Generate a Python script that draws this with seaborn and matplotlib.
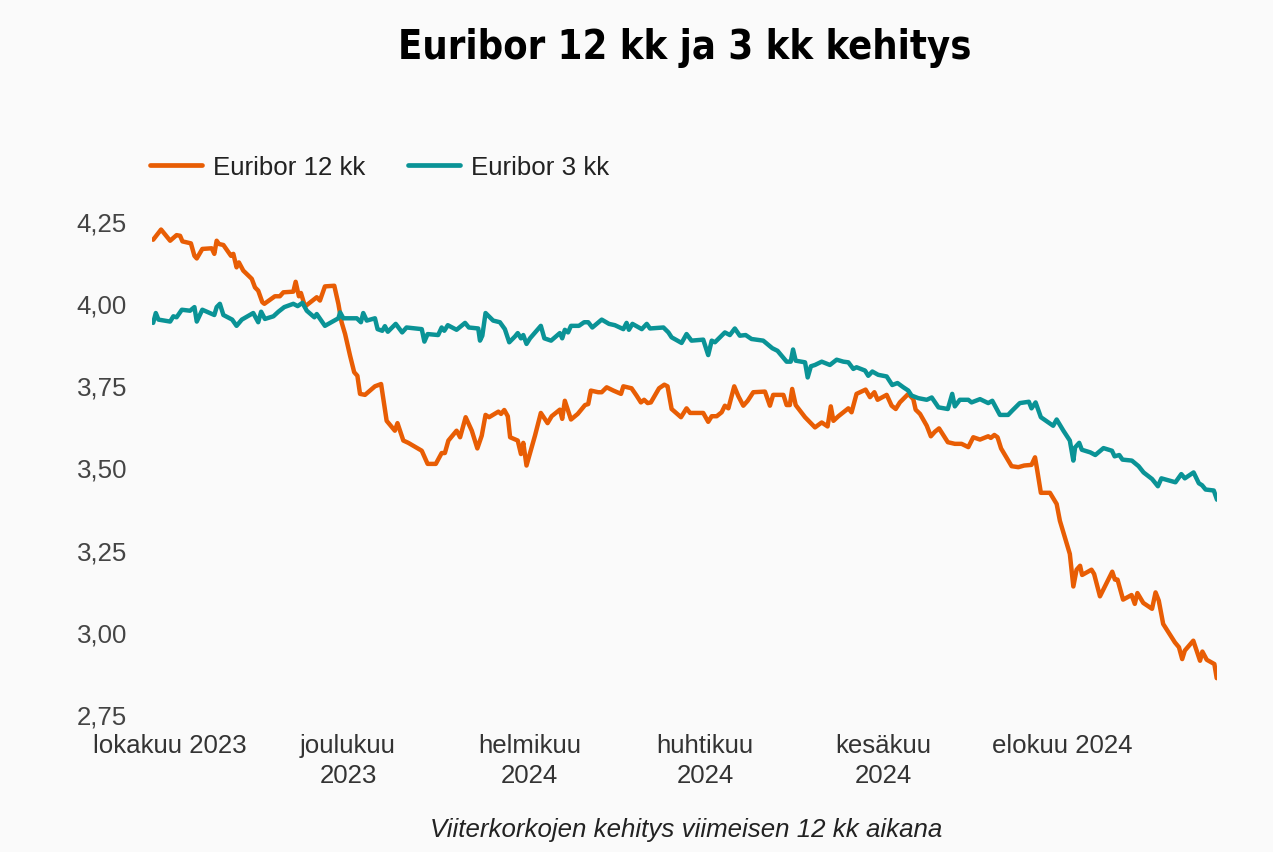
import matplotlib
matplotlib.use("Agg")
import matplotlib.pyplot as plt
import seaborn as sns
import pandas as pd
from matplotlib.lines import Line2D

# ---- data (day offsets from START, values in %) ----
START = "2023-09-25"

days_12 = [0.4, 3.1, 6.2, 8.4, 9.6, 10.4, 13.3, 14.5, 15.3, 17.2, 20.4, 21.3, 22.1, 22.9, 24.4,
           27.0, 27.8, 28.9, 29.7, 31.2, 34.1, 35.2, 36.3, 37.7, 38.4, 40.3, 42.0, 43.7, 44.9,
           48.3, 49.1, 50.2, 50.9, 52.3, 56.3, 57.4, 59.1, 62.3, 63.7, 64.8, 66.0, 67.7, 69.1,
           70.2, 71.1, 72.8, 76.2, 78.3, 80.2, 83.0, 83.9, 85.9, 87.6, 92.2, 94.2, 97.0, 99.0,
           100.1, 101.3, 104.1, 105.3, 107.2, 109.3, 111.2, 112.7, 114.0, 115.2, 118.4, 119.3,
           120.4, 121.6, 122.4, 125.0, 126.1, 126.9, 128.0, 130.9, 132.9, 135.2, 136.6, 139.4,
           140.2, 141.1, 143.2, 145.5, 148.0, 149.1, 150.0, 152.5, 153.7, 155.4, 157.7, 160.3,
           161.1, 163.9, 165.6, 167.1, 168.2, 169.4, 170.5, 173.3, 175.1, 176.2, 177.6, 180.8,
           182.7, 183.9, 188.4, 190.1, 191.3, 193.0, 194.7, 195.8, 197.0, 199.0, 200.4, 202.1,
           203.6, 205.5, 209.5, 211.2, 212.3, 215.8, 216.9, 218.0, 218.8, 220.0, 223.2, 225.5,
           226.6, 228.9, 230.9, 232.0, 232.9, 234.6, 238.0, 239.1, 240.8, 243.9, 245.4, 246.9,
           248.0, 251.1, 252.8, 254.2, 255.6, 258.5, 260.2, 261.0, 262.5, 264.8, 266.2, 267.6,
           269.0, 272.0, 274.4, 276.7, 279.0, 280.7, 283.0, 285.8, 286.7, 287.9, 289.0, 290.2,
           293.8, 296.1, 298.1, 300.6, 301.8, 302.4, 303.8, 306.9, 309.2, 310.3, 313.7, 314.9,
           316.0, 317.2, 317.9, 321.1, 322.0, 324.0, 328.2, 329.1, 330.0, 331.9, 334.8, 335.9,
           336.8, 338.8, 341.8, 343.0, 344.1, 345.6, 349.6, 351.0, 352.1, 353.0, 355.9, 358.2,
           359.0, 360.5, 363.1, 363.9]
euribor_12 = [4.193, 4.224, 4.19, 4.207, 4.205, 4.188, 4.182, 4.144, 4.136, 4.165, 4.167, 4.15,
              4.19, 4.18, 4.177, 4.144, 4.15, 4.109, 4.124, 4.099, 4.074, 4.048, 4.038, 4.003,
              3.998, 4.01, 4.021, 4.021, 4.033, 4.035, 4.065, 4.021, 4.031, 3.99, 4.018, 4.008,
              4.051, 4.053, 3.998, 3.942, 3.906, 3.84, 3.79, 3.779, 3.724, 3.721, 3.747, 3.754,
              3.642, 3.612, 3.635, 3.582, 3.575, 3.551, 3.511, 3.511, 3.544, 3.544, 3.582, 3.612,
              3.592, 3.653, 3.612, 3.558, 3.597, 3.66, 3.653, 3.67, 3.663, 3.675, 3.656, 3.592,
              3.582, 3.541, 3.575, 3.506, 3.597, 3.666, 3.635, 3.656, 3.676, 3.648, 3.703, 3.646,
              3.663, 3.69, 3.693, 3.734, 3.729, 3.729, 3.744, 3.734, 3.724, 3.747, 3.741, 3.719,
              3.698, 3.706, 3.696, 3.698, 3.741, 3.752, 3.747, 3.678, 3.653, 3.68, 3.666, 3.666,
              3.639, 3.656, 3.656, 3.668, 3.688, 3.68, 3.747, 3.717, 3.688, 3.703, 3.729, 3.731,
              3.688, 3.721, 3.721, 3.69, 3.69, 3.739, 3.69, 3.653, 3.632, 3.622, 3.637, 3.625,
              3.686, 3.642, 3.656, 3.68, 3.668, 3.724, 3.737, 3.714, 3.729, 3.706, 3.721, 3.688,
              3.678, 3.698, 3.724, 3.708, 3.676, 3.663, 3.627, 3.595, 3.609, 3.619, 3.577, 3.572,
              3.572, 3.562, 3.592, 3.585, 3.595, 3.59, 3.599, 3.592, 3.558, 3.504, 3.501, 3.506,
              3.508, 3.531, 3.50, 3.423, 3.423, 3.389, 3.338, 3.237, 3.138, 3.189, 3.201, 3.173,
              3.189, 3.176, 3.108, 3.183, 3.159, 3.159, 3.098, 3.112, 3.085, 3.118, 3.088, 3.07,
              3.12, 3.095, 3.024, 2.968, 2.953, 2.917, 2.943, 2.973, 2.912, 2.94, 2.915, 2.902,
              2.859]

days_3 = [0.4, 1.3, 2.2, 6.2, 7.3, 8.4, 10.2, 13.0, 14.5, 15.3, 17.2, 21.3, 22.1, 23.2, 24.4,
          27.4, 28.9, 30.7, 34.6, 36.3, 37.3, 38.6, 41.5, 43.2, 45.2, 48.3, 49.8, 51.4, 52.9,
          55.5, 56.3, 59.1, 62.3, 63.7, 64.3, 65.4, 70.0, 71.4, 72.2, 73.4, 76.2, 77.1, 78.7,
          79.6, 80.6, 83.3, 85.5, 87.0, 92.2, 93.1, 94.2, 97.8, 99.0, 99.9, 101.1, 104.1, 107.0,
          108.3, 111.5, 112.1, 112.9, 114.0, 116.6, 118.9, 120.6, 122.1, 124.1, 125.0, 126.1,
          126.9, 128.0, 129.2, 132.9, 134.1, 136.4, 139.4, 140.2, 141.1, 142.2, 143.2, 145.9,
          147.7, 149.1, 150.5, 153.7, 156.2, 158.2, 161.1, 162.2, 163.0, 164.2, 167.4, 169.1,
          170.2, 174.8, 176.5, 177.6, 181.0, 182.7, 184.4, 188.4, 190.1, 191.3, 192.4, 195.8,
          197.5, 199.2, 200.9, 202.9, 204.9, 208.9, 212.0, 213.8, 216.9, 218.3, 219.1, 220.0,
          223.2, 224.1, 225.2, 226.6, 228.9, 231.7, 234.0, 236.3, 238.0, 239.7, 240.8, 243.7,
          244.8, 246.2, 248.2, 251.1, 253.0, 254.8, 256.8, 258.5, 259.6, 261.9, 264.8, 266.5,
          268.8, 272.0, 273.5, 274.4, 276.1, 279.0, 280.1, 283.0, 285.8, 287.2, 289.8, 292.6,
          294.0, 296.6, 299.7, 300.6, 302.0, 303.8, 308.0, 309.2, 311.5, 313.7, 314.9, 315.5,
          316.9, 317.8, 320.7, 322.4, 325.2, 328.1, 329.0, 330.6, 331.7, 334.9, 337.2, 338.9,
          341.8, 343.8, 345.0, 349.8, 351.8, 353.0, 356.0, 357.8, 358.9, 360.1, 362.9, 364.0]
euribor_3 = [3.94, 3.97, 3.95, 3.944, 3.96, 3.957, 3.98, 3.977, 3.988, 3.944, 3.98, 3.964, 3.988,
             3.998, 3.964, 3.95, 3.931, 3.95, 3.97, 3.942, 3.974, 3.952, 3.96, 3.974, 3.988,
             3.998, 3.991, 4.001, 3.977, 3.957, 3.967, 3.931, 3.947, 3.954, 3.972, 3.954, 3.954,
             3.942, 3.97, 3.947, 3.954, 3.921, 3.916, 3.93, 3.913, 3.937, 3.911, 3.926, 3.921,
             3.883, 3.906, 3.903, 3.926, 3.916, 3.933, 3.919, 3.94, 3.926, 3.923, 3.886, 3.901,
             3.97, 3.947, 3.942, 3.921, 3.881, 3.899, 3.909, 3.893, 3.903, 3.876, 3.893, 3.931,
             3.893, 3.886, 3.909, 3.893, 3.919, 3.911, 3.931, 3.931, 3.942, 3.942, 3.926, 3.95,
             3.937, 3.933, 3.921, 3.94, 3.919, 3.937, 3.921, 3.937, 3.923, 3.926, 3.911, 3.896,
             3.879, 3.906, 3.886, 3.889, 3.842, 3.886, 3.881, 3.911, 3.903, 3.923, 3.901, 3.903,
             3.891, 3.886, 3.863, 3.855, 3.822, 3.822, 3.859, 3.825, 3.82, 3.774, 3.808, 3.812,
             3.822, 3.812, 3.828, 3.822, 3.82, 3.80, 3.805, 3.795, 3.779, 3.792, 3.782, 3.777,
             3.751, 3.757, 3.744, 3.734, 3.719, 3.711, 3.706, 3.713, 3.683, 3.678, 3.724, 3.686,
             3.706, 3.706, 3.698, 3.708, 3.696, 3.703, 3.66, 3.66, 3.673, 3.696, 3.70, 3.68,
             3.698, 3.653, 3.627, 3.646, 3.612, 3.582, 3.521, 3.561, 3.575, 3.554, 3.546, 3.538,
             3.559, 3.551, 3.534, 3.538, 3.524, 3.521, 3.504, 3.485, 3.465, 3.443, 3.467, 3.455,
             3.48, 3.467, 3.485, 3.452, 3.446, 3.433, 3.43, 3.402]

series_names = ["Euribor 12 kk", "Euribor 3 kk"]
series_colors = ["#e85d04", "#0a9396"]
y_ticks = [2.75, 3.00, 3.25, 3.50, 3.75, 4.00, 4.25]
x_tick_dates = ["2023-10-01", "2023-12-01", "2024-02-01", "2024-04-01", "2024-06-01", "2024-08-01"]
x_tick_labels = ["lokakuu 2023", "joulukuu\n2023", "helmikuu\n2024", "huhtikuu\n2024",
                 "kesäkuu\n2024", "elokuu 2024"]
title = "Euribor 12 kk ja 3 kk kehitys"
footer = "Viiterkorkojen kehitys viimeisen 12 kk aikana"

# ---- build frame ----
start = pd.Timestamp(START)
df = pd.concat([
    pd.DataFrame({"date": start + pd.to_timedelta(days_12, unit="D"), "value": euribor_12,
                  "series": series_names[0]}),
    pd.DataFrame({"date": start + pd.to_timedelta(days_3, unit="D"), "value": euribor_3,
                  "series": series_names[1]}),
], ignore_index=True)

BG = "#fafafa"
sns.set_theme(style="white")
plt.rcParams["font.family"] = ["Liberation Sans", "DejaVu Sans"]

fig = plt.figure(figsize=(12.73, 8.53), dpi=100, facecolor=BG)
ax = fig.add_axes([152 / 1273, 1 - 715 / 853, (1217 - 152) / 1273, (715 - 222) / 853])
ax.set_facecolor(BG)

sns.lineplot(data=df, x="date", y="value", hue="series", hue_order=series_names,
             palette=dict(zip(series_names, series_colors)), estimator=None,
             linewidth=3.2, legend=False, ax=ax)

ax.set_xlim(start, start + pd.Timedelta(days=364))
ax.set_ylim(2.75, 4.25)
ax.set_yticks(y_ticks)
ax.set_yticklabels([f"{v:.2f}".replace(".", ",") for v in y_ticks])
ax.set_xticks(pd.to_datetime(x_tick_dates))
ax.set_xticklabels(x_tick_labels, linespacing=1.3)
ax.set_xlabel("")
ax.set_ylabel("")
for s in ax.spines.values():
    s.set_visible(False)
ax.grid(False)
ax.tick_params(axis="y", length=0, pad=18, labelsize=18.6, labelcolor="#444444")
ax.tick_params(axis="x", length=0, pad=14, labelsize=18.6, labelcolor="#333333")

# legend
handles = [Line2D([0], [0], color=c, lw=3.4) for c in series_colors]
fig.legend(handles, series_names, loc="center left",
           bbox_to_anchor=(150 / 1273, 1 - 168 / 853), ncol=2, frameon=False,
           fontsize=18.6, handlelength=2.0, handletextpad=0.45, columnspacing=1.65,
           borderpad=0, borderaxespad=0, labelcolor="#222222")

fig.text(685 / 1273, 1 - 48 / 853, title, ha="center", va="center", fontsize=28.5,
         fontweight="bold", fontstretch="condensed", family="DejaVu Sans",
         color="#000000")
fig.text(686 / 1273, 1 - 830 / 853, footer, ha="center", va="center", fontsize=18.6,
         style="italic", color="#222222")

fig.savefig("out.png", dpi=100, facecolor=BG)
